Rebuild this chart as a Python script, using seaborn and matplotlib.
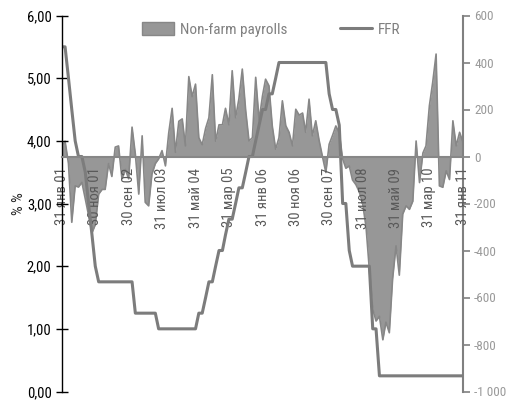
import pandas as pd
import matplotlib
matplotlib.use("Agg")
import matplotlib.pyplot as plt
import seaborn as sns
from matplotlib.patches import Patch
from matplotlib.lines import Line2D

# monthly data, 31 Jan 2001 .. 31 Jan 2011
start_date = "2001-01-31"

# Fed funds target rate, % (month end)
ffr = [
    5.50, 5.50, 5.00, 4.50, 4.00, 3.75, 3.75, 3.50, 3.00, 2.50, 2.00, 1.75,  # 2001
    1.75, 1.75, 1.75, 1.75, 1.75, 1.75, 1.75, 1.75, 1.75, 1.75, 1.25, 1.25,  # 2002
    1.25, 1.25, 1.25, 1.25, 1.25, 1.00, 1.00, 1.00, 1.00, 1.00, 1.00, 1.00,  # 2003
    1.00, 1.00, 1.00, 1.00, 1.00, 1.25, 1.25, 1.50, 1.75, 1.75, 2.00, 2.25,  # 2004
    2.25, 2.50, 2.75, 2.75, 3.00, 3.25, 3.25, 3.50, 3.75, 3.75, 4.00, 4.25,  # 2005
    4.50, 4.50, 4.75, 4.75, 5.00, 5.25, 5.25, 5.25, 5.25, 5.25, 5.25, 5.25,  # 2006
    5.25, 5.25, 5.25, 5.25, 5.25, 5.25, 5.25, 5.25, 4.75, 4.50, 4.50, 4.25,  # 2007
    3.00, 3.00, 2.25, 2.00, 2.00, 2.00, 2.00, 2.00, 2.00, 1.00, 1.00, 0.25,  # 2008
    0.25, 0.25, 0.25, 0.25, 0.25, 0.25, 0.25, 0.25, 0.25, 0.25, 0.25, 0.25,  # 2009
    0.25, 0.25, 0.25, 0.25, 0.25, 0.25, 0.25, 0.25, 0.25, 0.25, 0.25, 0.25,  # 2010
    0.25,                                                                    # 2011
]

# Non-farm payrolls, monthly change, thousands
nfp = [
    45, 65, -30, -280, -125, -130, -110, -180, -250, -325, -290, -160,
    -140, -140, -30, -85, 40, 45, -95, -55, -95, 125, 10, -160,
    88, -195, -210, -75, -30, -10, 25, -40, 100, 205, 18, 150,
    160, 45, 340, 255, 308, 80, 50, 120, 165, 348, 65, 135,
    135, 205, 135, 365, 165, 245, 372, 195, 66, 80, 337, 155,
    258, 329, 301, 130, 31, 80, 237, 131, 103, 45, 201, 176,
    185, 103, 244, 88, 152, 70, 0, -68, 52, 90, 130, 100,
    -10, -50, -40, -100, -120, -150, -200, -300, -480, -650, -700, -680,
    -780, -705, -750, -520, -380, -505, -245, -210, -225, -190, 66, -111,
    15, 45, 216, 315, 436, -125, -131, -61, -98, 152, 45, 103,
    60,
]

ru_months = ["янв", "фев", "мар", "апр", "май", "июн",
             "июл", "авг", "сен", "окт", "ноя", "дек"]

left_ticks = [0, 1, 2, 3, 4, 5, 6]
right_ticks = [-1000, -800, -600, -400, -200, 0, 200, 400, 600]

dates = pd.date_range(start_date, periods=len(ffr), freq="ME")
df = pd.DataFrame({"date": dates, "ffr": ffr, "nfp": nfp})

sns.set_style("white")
plt.rcParams["font.family"] = ["Roboto Condensed", "Liberation Sans Narrow",
                               "Roboto", "DejaVu Sans"]

fig = plt.figure(figsize=(5.14, 4.01), dpi=100)
ax = fig.add_axes([62 / 514, 1 - 391.5 / 401, 401 / 514, 376 / 401])
ax2 = ax.twinx()

# payrolls area on the right axis
ax2.fill_between(df["date"], 0, df["nfp"], color="#979797", linewidth=0)
sns.lineplot(data=df, x="date", y="nfp", ax=ax2, color="#878787", linewidth=1.2)
ax2.set_ylim(-1000, 600)
ax2.set_yticks(right_ticks)
ax2.set_yticklabels(["-1 000" if v == -1000 else str(v) for v in right_ticks])
ax2.set_ylabel("")
for s in ["top", "left", "bottom"]:
    ax2.spines[s].set_visible(False)
ax2.spines["right"].set_color("#808080")
ax2.spines["right"].set_linewidth(1.5)
ax2.tick_params(axis="y", direction="out", length=5, width=1.2, color="#808080",
                labelcolor="#9a9a9a", labelsize=9.5, pad=3)

# FFR line on the left axis, drawn above the area
ax.set_zorder(ax2.get_zorder() + 1)
ax.patch.set_visible(False)
sns.lineplot(data=df, x="date", y="ffr", ax=ax, color="#7c7c7c", linewidth=2.2)
ax.set_ylim(0, 6)
ax.set_yticks(left_ticks)
ax.set_yticklabels([f"{v:.2f}".replace(".", ",") for v in left_ticks])
ax.tick_params(axis="y", direction="inout", length=9, width=1, color="black",
               labelcolor="black", labelsize=10.5, pad=3)
ax.set_ylabel("% %", fontsize=11)
ax.yaxis.set_label_coords(-0.09, 0.5)

# x axis sits at payrolls zero (= 3.75 on the left scale)
ax.set_xlim(dates[0], dates[-1])
tick_dates = dates[::10]
ax.set_xticks(tick_dates)
ax.set_xticklabels([f"{d.day} {ru_months[d.month - 1]} {d:%y}" for d in tick_dates])
ax.set_xlabel("")
ax.spines["bottom"].set_position(("data", 3.75))
ax.spines["bottom"].set_color("#878787")
ax.spines["bottom"].set_linewidth(1.5)
ax.spines["top"].set_visible(False)
ax.spines["right"].set_visible(False)
ax.spines["left"].set_color("black")
ax.spines["left"].set_linewidth(1)
ax.tick_params(axis="x", direction="out", length=5, width=1, color="#878787",
               labelcolor="#5a5a5a", labelsize=10.5, pad=3, labelrotation=90)

handles = [Patch(facecolor="#979797", edgecolor="#878787"),
           Line2D([0], [0], color="#7c7c7c", linewidth=2.2)]
ax.legend(handles, ["Non-farm payrolls", "FFR"], loc="center",
          bbox_to_anchor=(0.528, 0.926), bbox_transform=fig.transFigure,
          ncol=2, frameon=False, fontsize=11, labelcolor="#808080",
          handlelength=2.1, handleheight=0.9, columnspacing=3.4,
          handletextpad=0.4)

fig.savefig("out.png", dpi=100)
